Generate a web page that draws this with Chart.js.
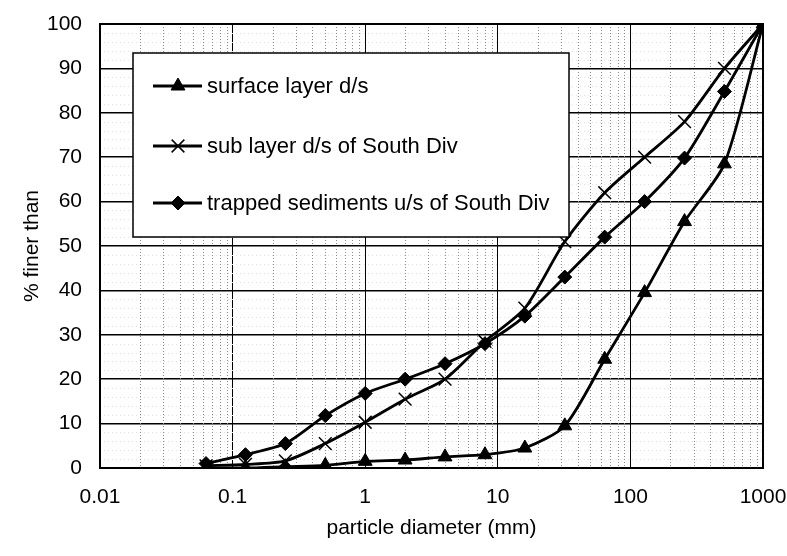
<!DOCTYPE html>
<html>
<head>
<meta charset="utf-8">
<script src="https://cdn.jsdelivr.net/npm/chart.js@4/dist/chart.umd.min.js"></script>
<style>
  html, body { margin: 0; padding: 0; background: #fff; }
  #wrap { width: 787px; height: 556px; }
</style>
</head>
<body>
<div id="wrap"><canvas id="chart" width="787" height="556"></canvas></div>
<script>
// sieve sizes (mm)
const diameters = [0.063, 0.125, 0.25, 0.5, 1, 2, 4, 8, 16, 32, 64, 128, 256, 512, 1000];

const surfaceLayer = [0, 0, 0.3, 0.6, 1.5, 1.8, 2.5, 3, 4.5, 9.5, 24.5, 39.5, 55.5, 68.5, 100];
const subLayer = [0.5, 0.8, 1.6, 5.5, 10.3, 15.5, 20, 28.5, 36, 51, 62, 70, 78, 90, 100];
const trappedSediments = [1, 3, 5.5, 11.8, 16.8, 20, 23.5, 28, 34.2, 43, 52, 60, 69.8, 84.8, 100];

const seriesNames = ["surface layer d/s", "sub layer d/s of South Div", "trapped sediments u/s of South Div"];
const xTicks = [0.01, 0.1, 1, 10, 100, 1000];

const FONT = "'Liberation Sans', Arial, sans-serif";

function toPoints(ys) {
    return diameters.map((d, i) => ({x: d, y: ys[i]}));
}

// dotted minor grid + plot frame
const minorGrid = {
    id: 'minorGrid',
    beforeDatasetsDraw(chart) {
        const ctx = chart.ctx;
        const a = chart.chartArea;
        const xs = chart.scales.x;
        const ys = chart.scales.y;
        ctx.save();
        ctx.lineWidth = 1;
        ctx.setLineDash([1, 3]);
        ctx.strokeStyle = '#e2e2e2';
        for (let v = 2; v < 100; v += 2) {
            if (v % 10 === 0) continue;
            let py = Math.round(ys.getPixelForValue(v)) + 0.5;
            ctx.beginPath();
            ctx.moveTo(a.left, py);
            ctx.lineTo(a.right, py);
            ctx.stroke();
        }
        ctx.setLineDash([1, 2]);
        ctx.strokeStyle = '#8a8a8a';
        for (let p = -2; p < 3; p++) {
            for (let k = 2; k < 10; k++) {
                let px = Math.round(xs.getPixelForValue(k * Math.pow(10, p))) + 0.5;
                ctx.beginPath();
                ctx.moveTo(px, a.top);
                ctx.lineTo(px, a.bottom);
                ctx.stroke();
            }
        }
        ctx.restore();
    },
    afterDatasetsDraw(chart) {
        const ctx = chart.ctx;
        const a = chart.chartArea;
        ctx.save();
        ctx.strokeStyle = '#000';
        ctx.lineWidth = 2;
        ctx.strokeRect(a.left, a.top, a.right - a.left, a.bottom - a.top);
        ctx.restore();
    }
};

// boxed legend inside the plot
const boxLegend = {
    id: 'boxLegend',
    afterDatasetsDraw(chart) {
        const ctx = chart.ctx;
        const box = {x: 133, y: 53, w: 436, h: 184};
        ctx.save();
        ctx.fillStyle = '#fff';
        ctx.fillRect(box.x, box.y, box.w, box.h);
        ctx.strokeStyle = '#000';
        ctx.lineWidth = 1.5;
        ctx.strokeRect(box.x, box.y, box.w, box.h);
        const rows = [86, 146, 203];
        chart.data.datasets.forEach((ds, i) => {
            const y = rows[i];
            ctx.strokeStyle = '#000';
            ctx.lineWidth = ds.borderWidth;
            ctx.setLineDash([]);
            ctx.beginPath();
            ctx.moveTo(153, y);
            ctx.lineTo(202, y);
            ctx.stroke();
            ctx.fillStyle = '#000';
            ctx.lineWidth = ds.pointBorderWidth;
            Chart.helpers.drawPoint(ctx, {
                pointStyle: ds.pointStyle,
                radius: ds.pointRadius,
                rotation: 0,
                borderWidth: ds.pointBorderWidth
            }, 178, y);
            ctx.fillStyle = '#000';
            ctx.font = '22px ' + FONT;
            ctx.textBaseline = 'middle';
            ctx.fillText(ds.label, 207, y + 1);
        });
        ctx.restore();
    }
};

function lineSet(label, ys, style, radius, width) {
    return {
        label: label,
        data: toPoints(ys),
        borderColor: '#000',
        backgroundColor: '#000',
        borderWidth: 2.8,
        pointStyle: style,
        pointRadius: radius,
        pointBorderWidth: width,
        pointBackgroundColor: '#000',
        pointBorderColor: '#000',
        tension: 0.25
    };
}

new Chart(document.getElementById('chart'), {
    type: 'line',
    data: {
        datasets: [
            lineSet(seriesNames[0], surfaceLayer, 'triangle', 8, 1),
            lineSet(seriesNames[1], subLayer, 'crossRot', 9, 1.5),
            lineSet(seriesNames[2], trappedSediments, 'rectRot', 7, 1)
        ]
    },
    options: {
        responsive: false,
        animation: false,
        layout: {padding: {top: 24, right: 24, left: 0, bottom: 0}},
        plugins: {legend: {display: false}, tooltip: {enabled: false}},
        scales: {
            x: {
                type: 'logarithmic',
                min: 0.01,
                max: 1000,
                afterBuildTicks: (scale) => { scale.ticks = xTicks.map(v => ({value: v})); },
                afterFit: (scale) => {
                    scale.height = 88;
                    scale.paddingLeft = 0;
                    scale.paddingRight = 0;
                },
                ticks: {
                    color: '#000',
                    font: {family: FONT, size: 21},
                    padding: 17,
                    maxRotation: 0,
                    autoSkip: false,
                    callback: (v) => String(v)
                },
                grid: {color: '#000', lineWidth: 1, drawTicks: false},
                border: {display: false},
                title: {
                    display: true,
                    text: 'particle diameter (mm)',
                    color: '#000',
                    font: {family: FONT, size: 21},
                    padding: {top: 0, bottom: 15}
                }
            },
            y: {
                min: 0,
                max: 100,
                afterFit: (scale) => {
                    scale.width = 100;
                    scale.paddingTop = 0;
                    scale.paddingBottom = 0;
                },
                ticks: {
                    stepSize: 10,
                    color: '#000',
                    font: {family: FONT, size: 21},
                    padding: 18
                },
                grid: {color: '#000', lineWidth: 1.5, drawTicks: false},
                border: {display: false},
                title: {
                    display: true,
                    text: '% finer than',
                    color: '#000',
                    font: {family: FONT, size: 21},
                    padding: {top: 20, bottom: 0}
                }
            }
        }
    },
    plugins: [minorGrid, boxLegend]
});
</script>
</body>
</html>
